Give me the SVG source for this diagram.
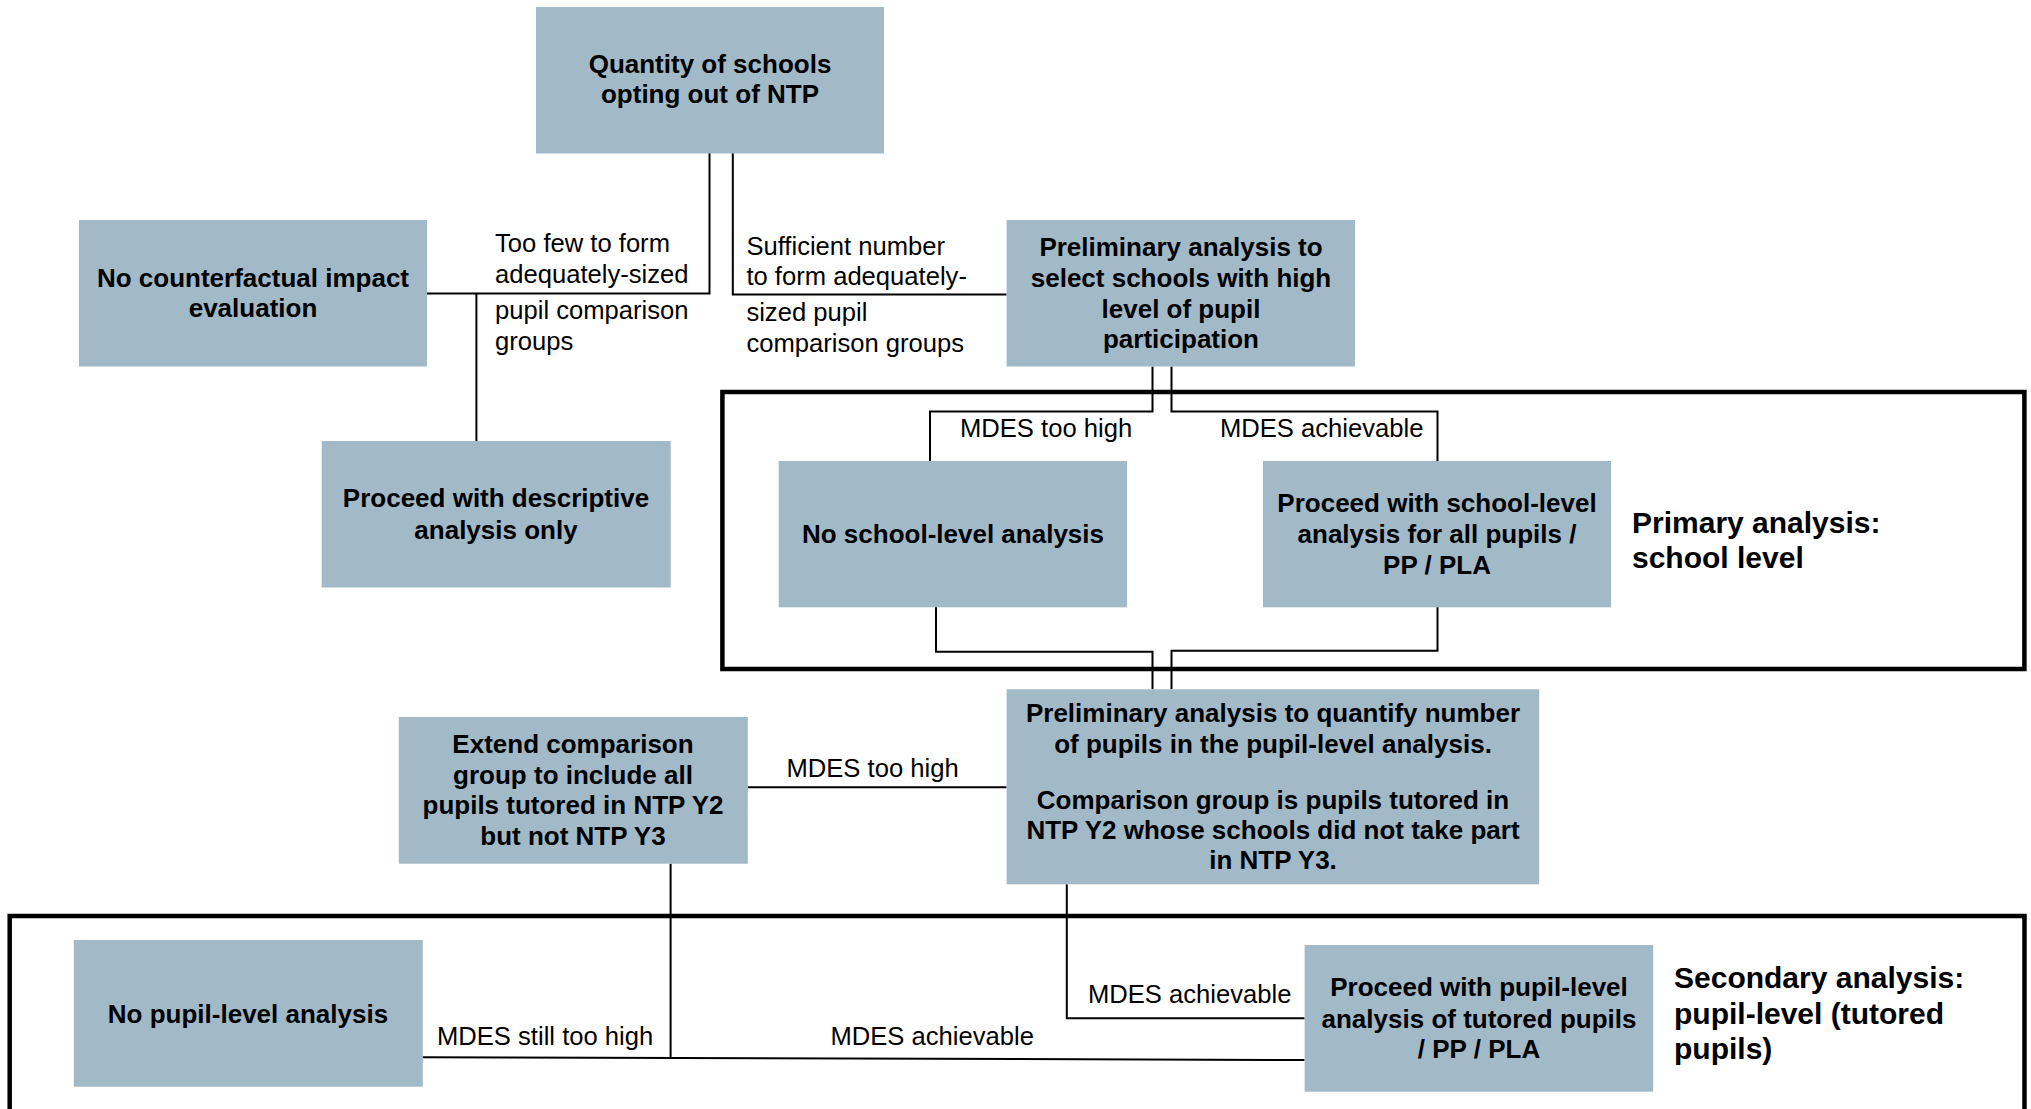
<svg xmlns="http://www.w3.org/2000/svg" width="2031" height="1109" viewBox="0 0 2031 1109">
<style>
.box{fill:#a2b9c8;}
.bt{font-family:"Liberation Sans",Arial,sans-serif;font-weight:bold;font-size:26px;fill:#000;text-anchor:middle;}
.lbl{font-family:"Liberation Sans",Arial,sans-serif;font-size:25.6px;fill:#000;}
.ttl{font-family:"Liberation Sans",Arial,sans-serif;font-weight:bold;font-size:30px;fill:#000;}
.frame{fill:none;stroke:#000;stroke-width:4.5;}
.conn path{fill:none;stroke:#000;stroke-width:2;}
</style>
<rect width="2031" height="1109" fill="#fff"/>
<g id="frame-primary">
<rect class="frame" x="722.4" y="392" width="1302" height="277"/>
<text class="ttl" x="1632" y="533">Primary analysis:</text>
<text class="ttl" x="1632" y="568">school level</text>
</g>
<g id="frame-secondary">
<path class="frame" d="M9.7 1115 V916 H2024.5 V1115"/>
<text class="ttl" x="1674" y="988">Secondary analysis:</text>
<text class="ttl" x="1674" y="1023.5">pupil-level (tutored</text>
<text class="ttl" x="1674" y="1059">pupils)</text>
</g>
<g class="conn" id="connectors">
<path d="M709.5 153 V293.5 H427"/>
<path d="M476.4 293.5 V441"/>
<path d="M732.8 153 V294.6 H1006.6"/>
<path d="M1152.5 366.5 V411.5 H930 V461"/>
<path d="M1171.5 366.5 V411.5 H1437.5 V461"/>
<path d="M936 607 V651.7 H1152.5 V689.3"/>
<path d="M1437.5 607 V650.7 H1171.5 V689.3"/>
<path d="M1006.6 787.3 H747.7"/>
<path d="M670.6 863.7 V1057.3"/>
<path d="M422.7 1057.3 L1304.6 1060"/>
<path d="M1066.8 884.3 V1018.3 H1304.6"/>
</g>
<g id="labels">
<text class="lbl" x="495" y="252">Too few to form</text>
<text class="lbl" x="495" y="283">adequately-sized</text>
<text class="lbl" x="495" y="319">pupil comparison</text>
<text class="lbl" x="495" y="349.5">groups</text>
<text class="lbl" x="746.4" y="255">Sufficient number</text>
<text class="lbl" x="746.4" y="285">to form adequately-</text>
<text class="lbl" x="746.4" y="321">sized pupil</text>
<text class="lbl" x="746.4" y="352">comparison groups</text>
<text class="lbl" x="960" y="437">MDES too high</text>
<text class="lbl" x="1220" y="437">MDES achievable</text>
<text class="lbl" x="786.5" y="776.7">MDES too high</text>
<text class="lbl" x="437" y="1045">MDES still too high</text>
<text class="lbl" x="830.5" y="1045">MDES achievable</text>
<text class="lbl" x="1088" y="1003.3">MDES achievable</text>
</g>
<g id="n-quantity">
<rect class="box" x="536" y="7" width="348" height="146.5"/>
<text class="bt" x="710" y="73.3">Quantity of schools</text>
<text class="bt" x="710" y="103.3">opting out of NTP</text>
</g>
<g id="n-no-counterfactual">
<rect class="box" x="79" y="220" width="348" height="146.5"/>
<text class="bt" x="253" y="286.5">No counterfactual impact</text>
<text class="bt" x="253" y="317">evaluation</text>
</g>
<g id="n-descriptive">
<rect class="box" x="321.7" y="441" width="349" height="146.5"/>
<text class="bt" x="496" y="507">Proceed with descriptive</text>
<text class="bt" x="496" y="538.5">analysis only</text>
</g>
<g id="n-prelim-select">
<rect class="box" x="1006.6" y="220" width="348.4" height="146.5"/>
<text class="bt" x="1181" y="256">Preliminary analysis to</text>
<text class="bt" x="1181" y="286.5">select schools with high</text>
<text class="bt" x="1181" y="317.5">level of pupil</text>
<text class="bt" x="1181" y="348">participation</text>
</g>
<g id="n-no-school">
<rect class="box" x="778.7" y="461" width="348.3" height="146.3"/>
<text class="bt" x="953" y="543">No school-level analysis</text>
</g>
<g id="n-proceed-school">
<rect class="box" x="1263" y="461" width="348" height="146.3"/>
<text class="bt" x="1437" y="512">Proceed with school-level</text>
<text class="bt" x="1437" y="543">analysis for all pupils /</text>
<text class="bt" x="1437" y="573.5">PP / PLA</text>
</g>
<g id="n-prelim-quantify">
<rect class="box" x="1006.6" y="689.3" width="532.6" height="195"/>
<text class="bt" x="1273" y="721.5">Preliminary analysis to quantify number</text>
<text class="bt" x="1273" y="752.5">of pupils in the pupil-level analysis.</text>
<text class="bt" x="1273" y="808.5">Comparison group is pupils tutored in</text>
<text class="bt" x="1273" y="838.5">NTP Y2 whose schools did not take part</text>
<text class="bt" x="1273" y="869">in NTP Y3.</text>
</g>
<g id="n-extend">
<rect class="box" x="398.8" y="717" width="349" height="146.7"/>
<text class="bt" x="573" y="752.5">Extend comparison</text>
<text class="bt" x="573" y="783.5">group to include all</text>
<text class="bt" x="573" y="814">pupils tutored in NTP Y2</text>
<text class="bt" x="573" y="845">but not NTP Y3</text>
</g>
<g id="n-no-pupil">
<rect class="box" x="73.8" y="940" width="349" height="146.7"/>
<text class="bt" x="248" y="1022.5">No pupil-level analysis</text>
</g>
<g id="n-proceed-pupil">
<rect class="box" x="1304.6" y="945" width="348.6" height="146.7"/>
<text class="bt" x="1479" y="996">Proceed with pupil-level</text>
<text class="bt" x="1479" y="1027.5">analysis of tutored pupils</text>
<text class="bt" x="1479" y="1057.5">/ PP / PLA</text>
</g>
</svg>
